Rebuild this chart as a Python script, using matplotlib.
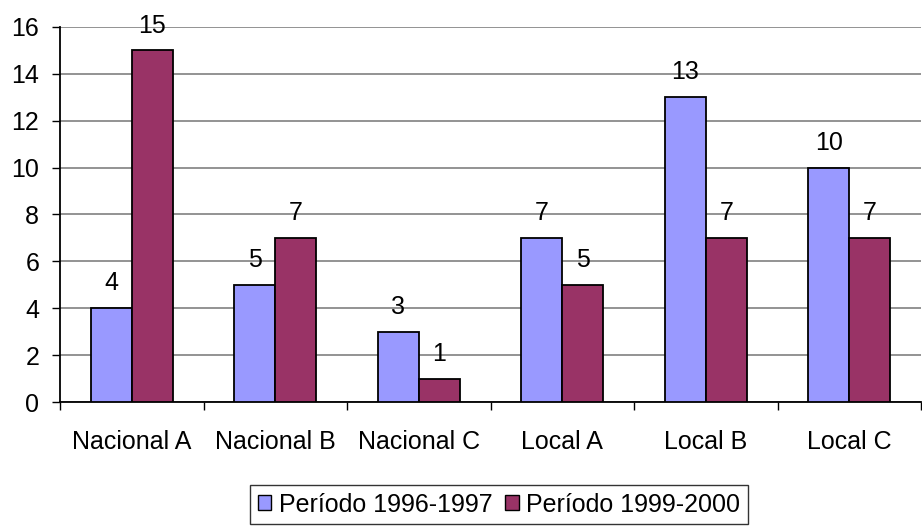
import numpy as np
import matplotlib.pyplot as plt
from matplotlib.patches import Patch

plt.rcParams['font.family'] = ['Liberation Sans', 'DejaVu Sans']

categorias = ['Nacional A', 'Nacional B', 'Nacional C', 'Local A', 'Local B', 'Local C']
periodo_9697 = [4, 5, 3, 7, 13, 10]
periodo_9900 = [15, 7, 1, 5, 7, 7]
series = ['Período 1996-1997', 'Período 1999-2000']
colores = ['#9999FF', '#993366']
fs = 18

fig = plt.figure(figsize=(9.22, 5.26), dpi=100)
ax = fig.add_axes([60 / 922, 1 - 402 / 526, 1 - 60 / 922 - 0.001, (402 - 27) / 526])

x = np.arange(len(categorias))
w = 1 / 3.5
for i, vals in enumerate([periodo_9697, periodo_9900]):
    pos = x + (i - 0.5) * w
    ax.bar(pos, vals, width=w, color=colores[i], edgecolor='black', linewidth=1.3, zorder=3)
    for p, v in zip(pos, vals):
        ax.text(p, v + 0.55, str(v), ha='center', va='bottom', fontsize=fs)

ax.set_xlim(-0.5, len(categorias) - 0.5)
ax.set_ylim(0, 16)
ax.set_yticks(range(0, 17, 2))
ax.yaxis.grid(True, color='#808080', linewidth=1.2)
ax.set_axisbelow(True)
ax.tick_params(axis='y', labelsize=fs, length=6, width=1, direction='out', pad=9)

ax.set_xticks(x)
ax.set_xticklabels(categorias, fontsize=fs)
ax.tick_params(axis='x', length=0, pad=20)
ax.set_xticks(np.arange(-0.5, len(categorias), 1), minor=True)
ax.tick_params(axis='x', which='minor', length=6, width=1, direction='out')

for s in ['top', 'right']:
    ax.spines[s].set_visible(False)
ax.spines['left'].set_linewidth(1.3)
ax.spines['bottom'].set_linewidth(1.3)

handles = [Patch(facecolor=c, edgecolor='black', label=l) for c, l in zip(colores, series)]
leg = fig.legend(handles=handles, loc='upper center', bbox_to_anchor=(499 / 922, 1 - 485 / 526), ncol=2,
                 fontsize=fs, frameon=True, fancybox=False, handlelength=0.55, handleheight=0.55,
                 handletextpad=0.3, columnspacing=0.5, borderpad=0.3, borderaxespad=0)
leg.get_frame().set_edgecolor('black')
leg.get_frame().set_linewidth(1)

fig.savefig('out.png', dpi=100)
